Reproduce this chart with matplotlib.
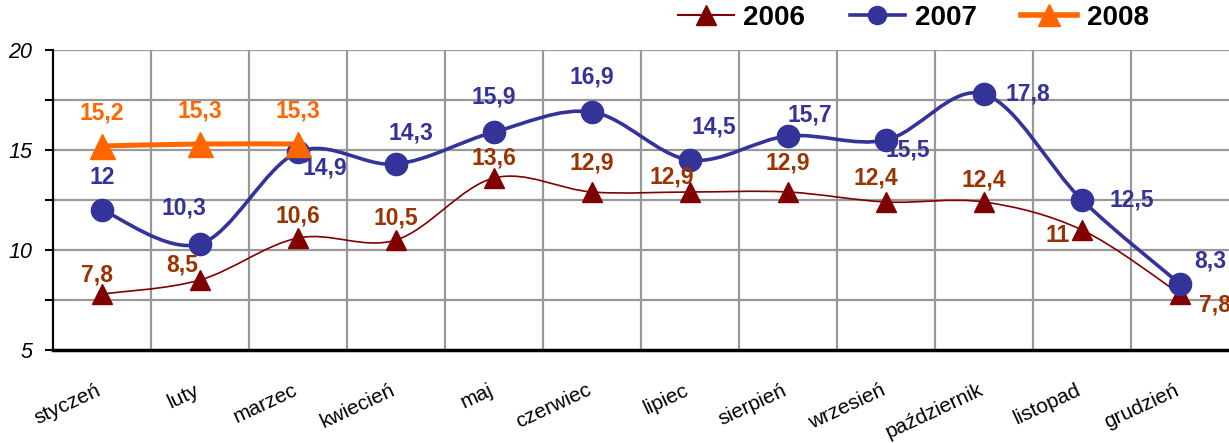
"""
Monthly values 2006-2008, smoothed line chart.
"""

import matplotlib
matplotlib.use("Agg")
import matplotlib.pyplot as plt
from matplotlib.path import Path
from matplotlib.patches import PathPatch
from matplotlib.lines import Line2D

months = ['styczeń', 'luty', 'marzec', 'kwiecień', 'maj', 'czerwiec',
          'lipiec', 'sierpień', 'wrzesień', 'październik', 'listopad', 'grudzień']
v2006 = [7.8, 8.5, 10.6, 10.5, 13.6, 12.9, 12.9, 12.9, 12.4, 12.4, 11, 7.8]
v2007 = [12, 10.3, 14.9, 14.3, 15.9, 16.9, 14.5, 15.7, 15.5, 17.8, 12.5, 8.3]
v2008 = [15.2, 15.3, 15.3]

# label offsets in pixels (dx, dy)
off2006 = [(-5, 19), (-18, 15), (0, 22), (0, 22), (0, 20), (0, 29),
           (-18, 15), (0, 29), (-10, 24), (0, 22), (-24, -6), (35, -11)]
off2007 = [(0, 33), (-16, 36), (27, -16), (15, 31), (0, 35), (0, 35),
           (24, 33), (22, 21), (22, -10), (44, 0), (50, 0), (30, 23)]
off2008 = [(0, 33), (0, 33), (0, 33)]

C06, C06T = '#800000', '#993300'
C07 = '#333399'
C08 = '#FF6600'


def smooth_path(xs, ys):
	"""Bezier path through the points, Excel-like smoothing"""
	pts = list(zip(xs, ys))
	verts = [pts[0]]
	codes = [Path.MOVETO]
	n = len(pts)
	for i in range(n - 1):
		p0 = pts[i - 1] if i > 0 else pts[i]
		p1 = pts[i]
		p2 = pts[i + 1]
		p3 = pts[i + 2] if i + 2 < n else pts[i + 1]
		c1 = (p1[0] + (p2[0] - p0[0]) / 6, p1[1] + (p2[1] - p0[1]) / 6)
		c2 = (p2[0] - (p3[0] - p1[0]) / 6, p2[1] - (p3[1] - p1[1]) / 6)
		verts += [c1, c2, p2]
		codes += [Path.CURVE4] * 3
	return Path(verts, codes)


def fmt(v):
	s = ('%g' % v)
	return s.replace('.', ',')


def draw_series(ax, vals, offs, color, tcolor, lw, marker, ms, z):
	xs = list(range(len(vals)))
	ax.add_patch(PathPatch(smooth_path(xs, vals), fill=False, edgecolor=color,
	                       lw=lw, zorder=z, capstyle='round'))
	ax.plot(xs, vals, linestyle='none', marker=marker, ms=ms, color=color,
	        markeredgecolor=color, zorder=z + 0.5, clip_on=False)
	for x, v, (dx, dy) in zip(xs, vals, offs):
		ax.annotate(fmt(v), (x, v), xytext=(dx, dy), textcoords='offset pixels',
		            ha='center', va='center', color=tcolor, fontsize=16.5,
		            fontweight='bold', zorder=10, annotation_clip=False)


if __name__ == "__main__":
	plt.rcParams['font.family'] = ['Liberation Sans', 'DejaVu Sans']
	fig = plt.figure(figsize=(12.29, 4.43), dpi=100)
	ax = fig.add_axes([53 / 1229, 1 - 350 / 443, 1 - 53 / 1229, 300 / 443])

	ax.set_xlim(-0.5, len(months) - 0.5)
	ax.set_ylim(5, 20)

	# grid
	for gx in [i + 0.5 for i in range(len(months) - 1)]:
		ax.axvline(gx, color='#999999', lw=1.6, zorder=0)
	for gy in [7.5, 10, 12.5, 15, 17.5, 20]:
		ax.axhline(gy, color='#999999', lw=1.6, zorder=0)

	draw_series(ax, v2006, off2006, C06, C06T, 1.2, '^', 14, 3)
	draw_series(ax, v2007, off2007, C07, C07, 2.6, 'o', 16, 4)
	draw_series(ax, v2008, off2008, C08, C08, 3.6, '^', 18, 5)

	ax.set_yticks([5, 10, 15, 20])
	ax.set_yticks([7.5, 12.5, 17.5], minor=True)
	ax.set_yticklabels(['5', '10', '15', '20'], fontsize=15.5, style='italic')
	ax.tick_params(axis='y', which='both', length=6, width=1.5, direction='out', pad=9)
	ax.set_xticks(range(len(months)))
	ax.set_xticklabels(months, rotation=25, ha='right', rotation_mode='anchor', fontsize=15)
	ax.tick_params(axis='x', length=0, pad=22)
	for lab in ax.get_xticklabels():
		lab.set_transform(lab.get_transform() + matplotlib.transforms.ScaledTranslation(-6 / 100, 0, fig.dpi_scale_trans))

	for s in ['top', 'right']:
		ax.spines[s].set_visible(False)
	ax.spines['left'].set_linewidth(1.6)
	ax.spines['bottom'].set_linewidth(2.5)

	handles = [
		Line2D([], [], color=C06, lw=1.5, marker='^', ms=14),
		Line2D([], [], color=C07, lw=2.6, marker='o', ms=13),
		Line2D([], [], color=C08, lw=4, marker='^', ms=16),
	]
	fig.legend(handles, ['2006', '2007', '2008'], loc='upper right',
	           bbox_to_anchor=(0.955, 1.045), ncol=3, frameon=False,
	           prop={'weight': 'bold', 'size': 20}, handlelength=2.0,
	           columnspacing=1.6, handletextpad=0.35)

	fig.savefig('out.png', dpi=100)
